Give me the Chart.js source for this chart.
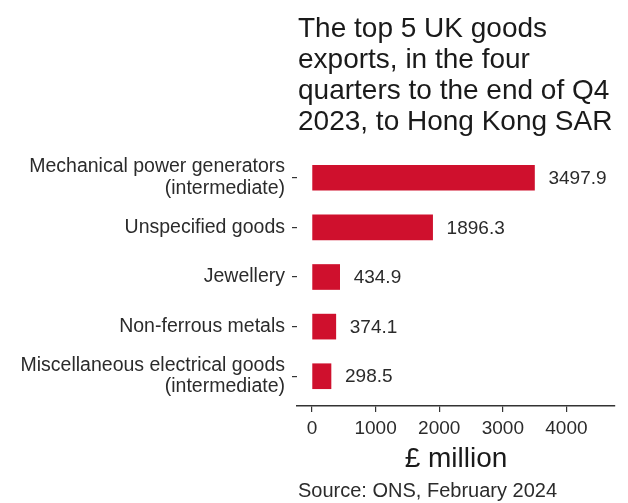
<!DOCTYPE html>
<html>
<head>
<meta charset="utf-8">
<style>
  html, body { margin: 0; padding: 0; background: #ffffff; }
  #wrap { width: 628px; height: 503px; position: relative; }
</style>
<script src="https://cdn.jsdelivr.net/npm/chart.js@4/dist/chart.umd.min.js"></script>
</head>
<body>
<div id="wrap"><canvas id="c" width="628" height="503"></canvas></div>
<script>
// ---- data ----
const categories = [
  ["Mechanical power generators", "(intermediate)"],
  ["Unspecified goods"],
  ["Jewellery"],
  ["Non-ferrous metals"],
  ["Miscellaneous electrical goods", "(intermediate)"]
];
const values = [3497.9, 1896.3, 434.9, 374.1, 298.5];
const valueLabels = ["3497.9", "1896.3", "434.9", "374.1", "298.5"];
const xTickValues = [0, 1000, 2000, 3000, 4000];
const titleLines = [
  "The top 5 UK goods",
  "exports, in the four",
  "quarters to the end of Q4",
  "2023, to Hong Kong SAR"
];
const axisTitle = "£ million";
const sourceText = "Source: ONS, February 2024";

const FONT = "'Liberation Sans', Arial, Helvetica, sans-serif";
const BAR = "#CF102D";
const TEXT = "#2b2b2b";

const points = values.map((v, i) => ({ x: v, y: i }));

const textPlugin = {
  id: 'textPlugin',
  afterDraw(chart) {
    const ctx = chart.ctx;
    const area = chart.chartArea;
    ctx.save();
    ctx.fillStyle = "#1a1a1a";
    ctx.textAlign = 'left';
    ctx.textBaseline = 'alphabetic';
    ctx.font = "28px " + FONT;
    titleLines.forEach((t, i) => {
      ctx.fillText(t, area.left + 1, 37 + i * 31);
    });
    ctx.fillStyle = TEXT;
    ctx.font = "20px " + FONT;
    ctx.fillText(sourceText, area.left + 1, 497);
    // value labels
    const meta = chart.getDatasetMeta(0);
    ctx.font = "19px " + FONT;
    ctx.textBaseline = 'middle';
    ctx.fillStyle = TEXT;
    meta.data.forEach((el, i) => {
      ctx.fillText(valueLabels[i], el.x + 14, el.y + 1);
    });
    ctx.restore();
  }
};

new Chart(document.getElementById('c'), {
  type: 'bar',
  data: {
    datasets: [{
      data: points,
      backgroundColor: BAR,
      borderWidth: 0,
      barThickness: 25
    }]
  },
  options: {
    indexAxis: 'y',
    responsive: false,
    animation: false,
    devicePixelRatio: 1,
    layout: { padding: { top: 148, right: 13, left: 0, bottom: 25 } },
    plugins: {
      legend: { display: false },
      tooltip: { enabled: false },
      title: { display: false }
    },
    scales: {
      x: {
        type: 'linear',
        min: -236,
        max: 4764,
        offset: false,
        afterBuildTicks: (s) => { s.ticks = xTickValues.map(v => ({ value: v })); },
        afterFit: (s) => { s.height = 72; },
        border: { display: true, color: '#333333', width: 1.5 },
        grid: { drawOnChartArea: false, drawTicks: true, tickLength: 6, color: '#333333', lineWidth: 1.2, offset: false },
        ticks: {
          color: TEXT,
          font: { family: FONT, size: 19 },
          padding: 5,
          maxRotation: 0,
          callback: (v) => String(v)
        },
        title: {
          display: true,
          text: axisTitle,
          color: "#1a1a1a",
          font: { family: FONT, size: 28 },
          padding: { top: 0, bottom: 2 }
        }
      },
      y: {
        type: 'linear',
        reverse: true,
        min: -0.6,
        max: 4.6,
        offset: false,
        afterBuildTicks: (s) => { s.ticks = categories.map((c, i) => ({ value: i })); },
        afterFit: (s) => { s.width = 297; },
        border: { display: false },
        grid: { drawOnChartArea: false, drawTicks: true, tickLength: 5, color: '#333333', lineWidth: 1.2, offset: false },
        ticks: {
          color: TEXT,
          font: { family: FONT, size: 19.5, lineHeight: 1.1 },
          padding: 7,
          callback: (v) => categories[v]
        }
      }
    }
  },
  plugins: [textPlugin]
});
</script>
</body>
</html>
